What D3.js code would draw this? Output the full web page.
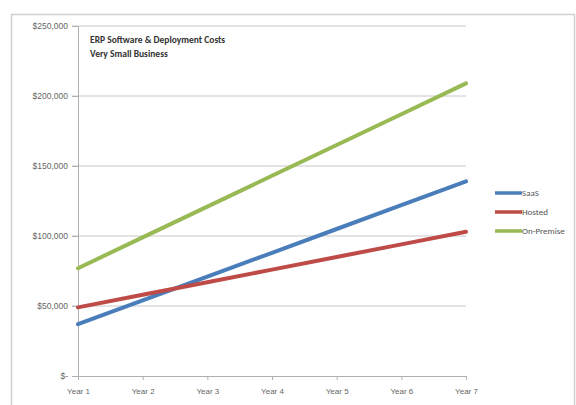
<!DOCTYPE html>
<html>
<head>
<meta charset="utf-8">
<script src="https://cdn.jsdelivr.net/npm/d3@7"></script>
<style>
  body { margin: 0; background: #fff; }
  svg { font-family: Calibri, "Liberation Sans", Arial, sans-serif; }
</style>
</head>
<body>
<div id="chart"></div>
<script>
// chart data
const years = ["Year 1", "Year 2", "Year 3", "Year 4", "Year 5", "Year 6", "Year 7"];
const saas = [37000, 54000, 71000, 88000, 105000, 122000, 139000];
const hosted = [49000, 58000, 67000, 76000, 85000, 94000, 103000];
const onPremise = [77000, 99000, 121000, 143000, 165000, 187000, 209000];
const yTicks = [0, 50000, 100000, 150000, 200000, 250000];
const titleLines = ["ERP Software & Deployment Costs", "Very Small Business"];

const series = [
  {name: "SaaS", values: saas, color: "#4a7ebb"},
  {name: "Hosted", values: hosted, color: "#be4b48"},
  {name: "On-Premise", values: onPremise, color: "#98b954"}
];

const W = 576, H = 405;
const margin = {top: 26, right: 110, bottom: 29, left: 78};
const width = W - margin.left - margin.right,
      height = H - margin.top - margin.bottom;

const svg = d3.select("#chart").append("svg")
    .attr("width", W)
    .attr("height", H);

// outer chart border
svg.append("rect")
    .attr("x", 11.5).attr("y", 14.5)
    .attr("width", 563).attr("height", 400)
    .attr("fill", "none")
    .attr("stroke", "#d0d0d0")
    .attr("stroke-width", 1.5);

const g = svg.append("g")
    .attr("transform", `translate(${margin.left},${margin.top})`);

const x = d3.scalePoint().domain(years).range([0, width]);
const y = d3.scaleLinear().domain([0, 250000]).range([height, 0]);

// gridlines
g.append("g")
  .selectAll("line")
  .data(yTicks.filter(d => d > 0))
  .join("line")
    .attr("x1", -6).attr("x2", width)
    .attr("y1", d => y(d)).attr("y2", d => y(d))
    .attr("stroke", "#c8c8c8")
    .attr("stroke-width", 1);

// y axis
const yAxis = g.append("g")
    .call(d3.axisLeft(y).tickValues(yTicks).tickSize(6).tickPadding(4)
      .tickFormat(d => d === 0 ? "$-" : "$" + d3.format(",")(d)));
yAxis.select(".domain").attr("stroke", "#b0b0b0");
yAxis.selectAll(".tick line").attr("stroke", "#b0b0b0");
yAxis.selectAll("text").attr("fill", "#666").style("font-size", "8.5px");

// x axis
const xAxis = g.append("g")
    .attr("transform", `translate(0,${height})`)
    .call(d3.axisBottom(x).tickSize(4).tickPadding(8));
xAxis.select(".domain").attr("stroke", "#b0b0b0");
xAxis.selectAll(".tick line").attr("stroke", "#b0b0b0");
xAxis.selectAll("text").attr("fill", "#666").style("font-size", "8px");

// lines
const line = d3.line()
    .x((d, i) => x(years[i]))
    .y(d => y(d));

g.selectAll(".series")
  .data(series)
  .join("path")
    .attr("class", "series")
    .attr("d", d => line(d.values))
    .attr("fill", "none")
    .attr("stroke", d => d.color)
    .attr("stroke-width", 4)
    .attr("stroke-linecap", "round");

// title
g.append("text")
    .attr("x", 12).attr("y", 17)
    .attr("fill", "#333")
    .style("font-size", "9.5px")
    .style("font-weight", "bold")
  .selectAll("tspan")
  .data(titleLines)
  .join("tspan")
    .attr("x", 12)
    .attr("dy", (d, i) => i === 0 ? 0 : 14)
    .text(d => d);

// legend
const legend = svg.append("g")
    .attr("transform", "translate(495,193)");
const item = legend.selectAll("g")
  .data(series)
  .join("g")
    .attr("transform", (d, i) => `translate(0,${i * 19})`);
item.append("line")
    .attr("x1", 0).attr("x2", 27)
    .attr("stroke", d => d.color)
    .attr("stroke-width", 3.5);
item.append("text")
    .attr("x", 27).attr("dy", "0.35em")
    .attr("fill", "#555")
    .style("font-size", "9px")
    .text(d => d.name);
</script>
</body>
</html>
